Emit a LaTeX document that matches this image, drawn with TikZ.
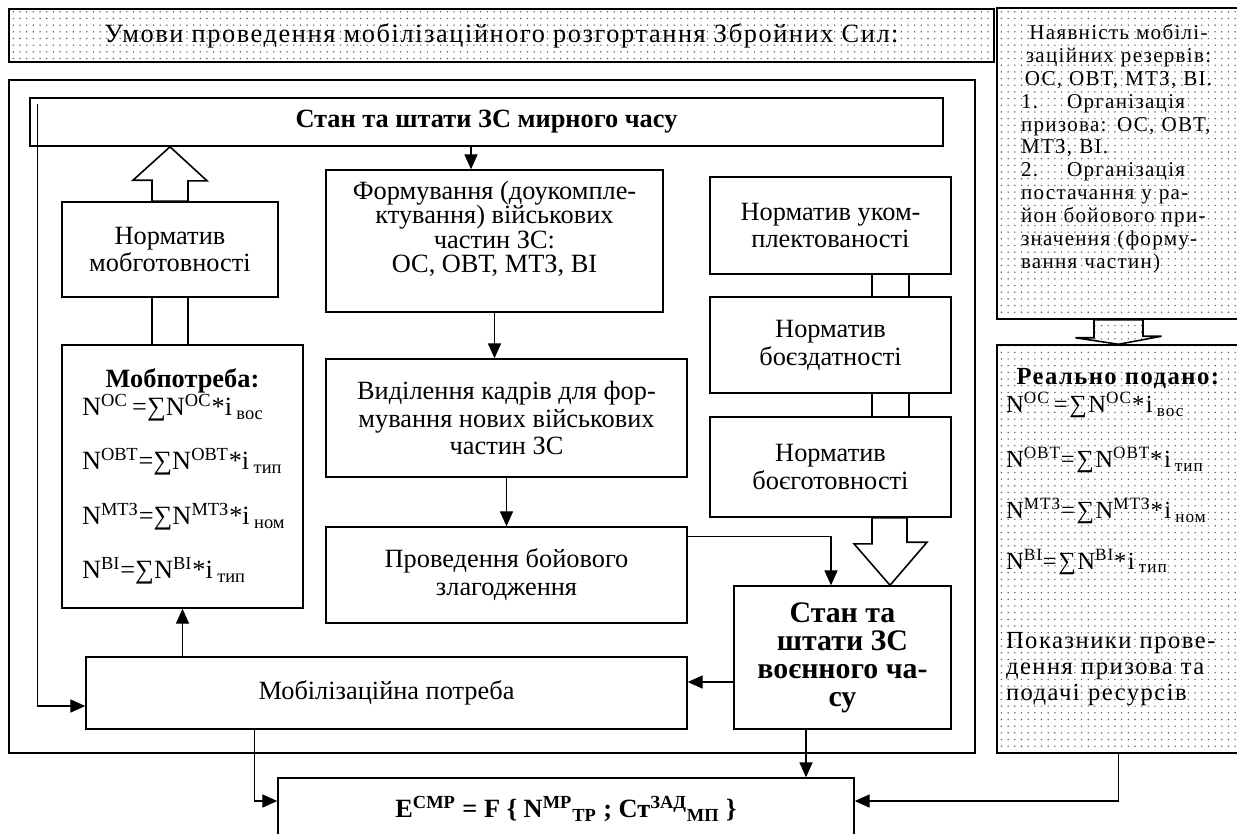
\documentclass[tikz,border=0pt]{standalone}
\usepackage{fontspec}
\setmainfont{Liberation Serif}
\usepackage{tikz}
\usetikzlibrary{arrows.meta,patterns}
\pgfdeclarepatternformonly{sparsedots}{\pgfqpoint{-1pt}{-1pt}}{\pgfqpoint{1pt}{1pt}}{\pgfqpoint{3.8pt}{3.8pt}}%
    {\pgfpathcircle{\pgfqpoint{0pt}{0pt}}{0.45pt}\pgfusepath{fill}}

\begin{document}
\begin{tikzpicture}[x=0.02cm, y=-0.02cm, font=\fontsize{15}{15.9}\selectfont,
    box/.style={draw, line width=0.9pt, inner sep=0pt, align=center},
    dotbox/.style={box, pattern=sparsedots, pattern color=black!65},
    bold/.style={font=\fontsize{15}{15.9}\selectfont\bfseries},
    spaced/.style={font=\fontsize{15}{15.9}\selectfont\addfontfeatures{LetterSpace=6}},
    small/.style={font=\fontsize{12}{13}\selectfont\addfontfeatures{LetterSpace=6}},
    medium/.style={font=\fontsize{14}{15}\selectfont\addfontfeatures{LetterSpace=6}},
    arr/.style={line width=0.6pt, -{Triangle[length=8.5pt,width=7.5pt]}},
    pipe/.style={line width=0.9pt},
    hollow/.style={draw, line width=0.9pt, fill=white}]
    \useasboundingbox (0,0) rectangle (1237,833);

    \node[dotbox, spaced, minimum width=19.7cm, minimum height=1.06cm] (title) at (501.5,35.5)
        {Умови проведення мобілізаційного розгортання Збройних Сил:};
    \node[dotbox, minimum width=4.86cm, minimum height=6.22cm] (avail) at (1118.5,163.5) {};
    \node[small, anchor=north, align=left, text width=3.9cm, inner sep=0pt] (availtext) at ([yshift=-0.34cm]avail.north)
        {\makebox[3.9cm]{Наявність мобілі-}\\\makebox[3.9cm]{заційних резервів:}\\\makebox[3.9cm]{ОС, ОВТ, МТЗ, ВІ.}\\
        \makebox[0.92cm][l]{1.}Організація\\призова: ОС, ОВТ,\\МТЗ, ВІ.\\
        \makebox[0.92cm][l]{2.}Організація\\постачання у ра-\\йон бойового при-\\значення (форму-\\вання частин)};

    \node[box, minimum width=19.32cm, minimum height=13.46cm] (frame) at (492,416.5) {};
    \node[box, bold, minimum width=18.26cm, minimum height=0.96cm] (peace) at (486.5,122) {Стан та штати ЗС мирного часу};

    \node[box, minimum width=4.32cm, minimum height=1.9cm] (normmob) at (170,249.5) {Норматив\\мобготовності};
    \node[box, align=left, text width=4.42cm, minimum width=4.82cm, minimum height=5.26cm] (need) at (182.5,476.5)
        {\makebox[4.42cm]{\textbf{Мобпотреба:}}\\
        \hspace*{0.2cm}N\textsuperscript{ОС}\,=∑N\textsuperscript{ОС}*i\,\textsubscript{вос}\\[15pt]
        \hspace*{0.2cm}N\textsuperscript{ОВТ}=∑N\textsuperscript{ОВТ}*i\,\textsubscript{тип}\\[15pt]
        \hspace*{0.2cm}N\textsuperscript{МТЗ}=∑N\textsuperscript{МТЗ}*i\,\textsubscript{ном}\\[15pt]
        \hspace*{0.2cm}N\textsuperscript{ВІ}=∑N\textsuperscript{ВІ}*i\,\textsubscript{тип}};

    \node[box, font=\fontsize{15}{14}\selectfont, text depth=16pt, minimum width=6.74cm, minimum height=2.84cm] (form) at (494.5,241)
        {Формування (доукомпле-\\ктування) військових\\частин ЗС:\\ОС, ОВТ, МТЗ, ВІ};
    \node[box, minimum width=7.22cm, minimum height=2.36cm] (cadre) at (506.5,418)
        {Виділення кадрів для фор-\\мування нових військових\\частин ЗС};
    \node[box, minimum width=7.22cm, minimum height=1.92cm] (drill) at (506.5,575) {Проведення бойового\\злагодження};
    \node[box, minimum width=12.02cm, minimum height=1.44cm] (mobneed) at (386.5,693) {Мобілізаційна потреба};

    \node[box, minimum width=4.82cm, minimum height=1.94cm] (normcomp) at (830.5,225.5) {Норматив уком-\\плектованості};
    \node[box, minimum width=4.82cm, minimum height=1.92cm] (normfit) at (830.5,345) {Норматив\\боєздатності};
    \node[box, minimum width=4.82cm, minimum height=2.0cm] (normready) at (830.5,467) {Норматив\\боєготовності};
    \node[box, font=\fontsize{17}{15.9}\selectfont\bfseries, minimum width=4.34cm, minimum height=2.86cm] (war) at (842.5,657.5)
        {Стан та\\штати ЗС\\воєнного ча-\\су};

    \node[dotbox, minimum width=4.86cm, minimum height=8.16cm] (real) at (1118.5,549) {};
    \node[medium, anchor=north, align=left, text width=4.5cm, inner sep=0pt] (realtext) at ([yshift=-0.48cm]real.north)
        {\makebox[4.5cm]{\textbf{Реально подано:}}\\[1pt]
        N\textsuperscript{ОС}\,=∑N\textsuperscript{ОС}*i\,\textsubscript{вос}\\[16pt]
        N\textsuperscript{ОВТ}=∑N\textsuperscript{ОВТ}*i\,\textsubscript{тип}\\[14pt]
        N\textsuperscript{МТЗ}=∑N\textsuperscript{МТЗ}*i\,\textsubscript{ном}\\[14pt]
        N\textsuperscript{ВІ}=∑N\textsuperscript{ВІ}*i\,\textsubscript{тип}\\[30pt]
        Показники прове-\\дення призова та\\подачі ресурсів};

    \node[box, bold, minimum width=11.52cm, minimum height=1.24cm] (result) at (566,809)
        {E\textsuperscript{СМР} = F \{ N\textsuperscript{МР}\textsubscript{ТР} ; Ст\textsuperscript{ЗАД}\textsubscript{МП} \}};

    \draw[hollow] ([xshift=-0.36cm]normmob.north) -- ++(0,-21) -- ++(-19,0) -- (normmob.north |- peace.south)
        -- ++(37,34) -- ++(-19,0) -- ([xshift=0.36cm]normmob.north) -- cycle;
    \draw[pipe] ([xshift=-0.36cm]normmob.south) -- ([xshift=-0.36cm]normmob.south |- need.north);
    \draw[pipe] ([xshift=0.36cm]normmob.south) -- ([xshift=0.36cm]normmob.south |- need.north);

    \draw[pipe] ([xshift=0.83cm]normcomp.south) -- ([xshift=0.83cm]normcomp.south |- normfit.north);
    \draw[pipe] ([xshift=1.57cm]normcomp.south) -- ([xshift=1.57cm]normcomp.south |- normfit.north);
    \draw[pipe] ([xshift=0.83cm]normfit.south) -- ([xshift=0.83cm]normfit.south |- normready.north);
    \draw[pipe] ([xshift=1.57cm]normfit.south) -- ([xshift=1.57cm]normfit.south |- normready.north);
    \draw[hollow] ([xshift=0.83cm]normready.south) -- ++(0,26) -- ++(-18,0) -- ([xshift=0.95cm]war.north)
        -- ++(37,-43) -- ++(-20,0) -- ([xshift=1.53cm]normready.south) -- cycle;

    \draw[hollow, preaction={fill=white}, pattern=sparsedots, pattern color=black!65] ([xshift=-0.49cm]avail.south)
        -- ++(0,18) -- ++(-18.5,0) -- (real.north) -- ++(43,-8) -- ++(-18.5,0) -- ([xshift=0.49cm]avail.south) -- cycle;

    \draw[arr] ([xshift=-0.47cm]form.north |- peace.south) -- ([xshift=-0.47cm]form.north);
    \draw[arr] (form.south) -- (form.south |- cadre.north);
    \draw[arr] (cadre.south) -- (cadre.south |- drill.north);
    \draw[arr] ([yshift=-0.2cm]drill.north east) -| ([xshift=-0.23cm]war.north);
    \draw[arr] ([yshift=0.22cm]mobneed.east -| war.west) -- ([yshift=0.22cm]mobneed.east);
    \draw[arr] (need.south |- mobneed.north) -- (need.south);
    \draw[arr] ([xshift=0.16cm, yshift=-0.14cm]peace.north west) |- ([yshift=-0.26cm]mobneed.west);
    \draw[arr] ([xshift=-2.65cm]mobneed.south) |- ([yshift=0.16cm]result.west);
    \draw[arr] ([xshift=-0.73cm]war.south) -- ([xshift=-0.73cm]war.south |- result.north);
    \draw[arr] (real.south) |- ([yshift=0.16cm]result.east);
\end{tikzpicture}
\end{document}
